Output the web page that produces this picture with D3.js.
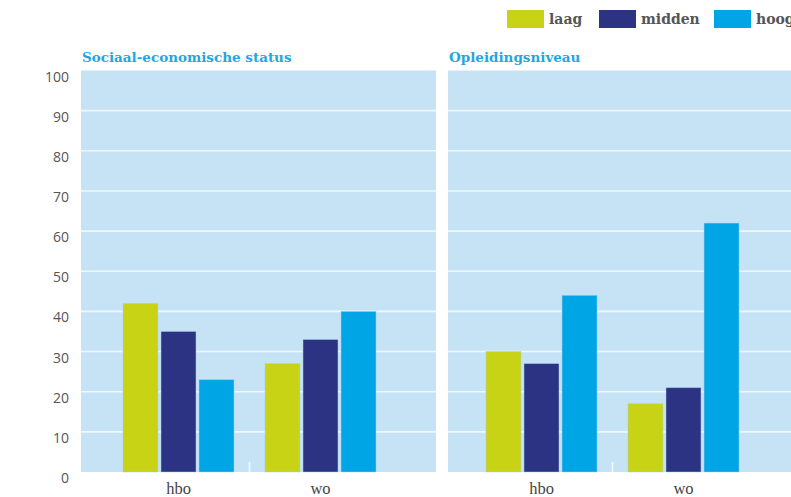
<!DOCTYPE html>
<html lang="nl">
<head>
  <meta charset="UTF-8">
  <title>Sociaal-economische status en opleidingsniveau</title>
  <script src="https://d3js.org/d3.v7.min.js"></script>
  <style>
    body { margin: 0; background: #fff; }
    .tick-label { font-family: "Open Sans", sans-serif; font-size: 14px; fill: #555; }
    .cat-label { font-family: "Liberation Serif", serif; font-size: 16.5px; fill: #444; }
    .panel-title { font-family: "DejaVu Serif", serif; font-weight: bold; font-size: 13.5px; fill: #1ea7e4; }
    .legend-label { font-family: "DejaVu Serif", serif; font-weight: bold; font-size: 14px; fill: #555; }
  </style>
</head>
<body>
  <div id="chart"></div>
  <script>
    const categories = ["hbo", "wo"];
    const seriesNames = ["laag", "midden", "hoog"];
    const panelTitles = ["Sociaal-economische status", "Opleidingsniveau"];
    // values per panel, per category, per series
    const sesHbo = [42, 35, 23];
    const sesWo = [27, 33, 40];
    const oplHbo = [30, 27, 44];
    const oplWo = [17, 21, 62];
    const yTicks = [0, 10, 20, 30, 40, 50, 60, 70, 80, 90, 100];

    const colors = ["#c9d315", "#2b3382", "#00a5e6"];
    const panelData = [[sesHbo, sesWo], [oplHbo, oplWo]];

    const width = 791;
    const height = 497;

    const svg = d3.select("#chart")
      .append("svg")
      .attr("width", width)
      .attr("height", height);

    const y = d3.scaleLinear()
      .domain([0, 100])
      .range([472, 70.5]);

    // panel geometry: background area and the span for the two groups
    const panels = [
      { x0: 81, x1: 436, g0: 107.5, g1: 391.5 },
      { x0: 448, x1: 800, g0: 470.5, g1: 754.5 }
    ];

    panels.forEach((p, pi) => {
      const g = svg.append("g");

      g.append("rect")
        .attr("x", p.x0)
        .attr("y", y(100))
        .attr("width", p.x1 - p.x0)
        .attr("height", y(0) - y(100))
        .attr("fill", "#c6e3f6");

      g.selectAll(".grid")
        .data(yTicks.filter(d => d > 0 && d < 100))
        .enter()
        .append("line")
        .attr("x1", p.x0)
        .attr("x2", p.x1)
        .attr("y1", d => y(d))
        .attr("y2", d => y(d))
        .attr("stroke", "#eef7fd")
        .attr("stroke-width", 1.6);

      g.append("text")
        .attr("class", "panel-title")
        .attr("x", p.x0 + 1)
        .attr("y", 62)
        .text(panelTitles[pi]);

      const x0 = d3.scaleBand()
        .domain(categories)
        .range([p.g0, p.g1]);

      const x1 = d3.scaleBand()
        .domain(seriesNames)
        .range([0, 111])
        .paddingInner(0.08);

      // small separator tick between the groups
      g.append("line")
        .attr("x1", x0("wo"))
        .attr("x2", x0("wo"))
        .attr("y1", y(0) - 10)
        .attr("y2", y(0))
        .attr("stroke", "#f4f9fd")
        .attr("stroke-width", 1.5);

      categories.forEach((c, ci) => {
        const groupX = x0(c) + x0.bandwidth() / 2 - 55.5;
        g.selectAll(".bar-" + c)
          .data(panelData[pi][ci])
          .enter()
          .append("rect")
          .attr("x", (d, i) => groupX + x1(seriesNames[i]))
          .attr("y", d => y(d))
          .attr("width", x1.bandwidth())
          .attr("height", d => y(0) - y(d))
          .attr("fill", (d, i) => colors[i])
          .attr("stroke", "#a9cdea")
          .attr("stroke-opacity", 0.6)
          .attr("stroke-width", 0.8);

        g.append("text")
          .attr("class", "cat-label")
          .attr("x", x0(c) + x0.bandwidth() / 2)
          .attr("y", 494)
          .attr("text-anchor", "middle")
          .text(c);
      });
    });

    // y axis labels
    svg.selectAll(".tick-label")
      .data(yTicks)
      .enter()
      .append("text")
      .attr("class", "tick-label")
      .attr("x", 69)
      .attr("y", d => y(d) + 11)
      .attr("text-anchor", "end")
      .text(d => d);

    // legend
    const legendX = [507, 599, 714];
    const legend = svg.selectAll(".legend")
      .data(seriesNames)
      .enter()
      .append("g")
      .attr("transform", (d, i) => `translate(${legendX[i]}, 10)`);

    legend.append("rect")
      .attr("width", 37)
      .attr("height", 18)
      .attr("fill", (d, i) => colors[i]);

    legend.append("text")
      .attr("class", "legend-label")
      .attr("x", 42)
      .attr("y", 14)
      .text(d => d);
  </script>
</body>
</html>
